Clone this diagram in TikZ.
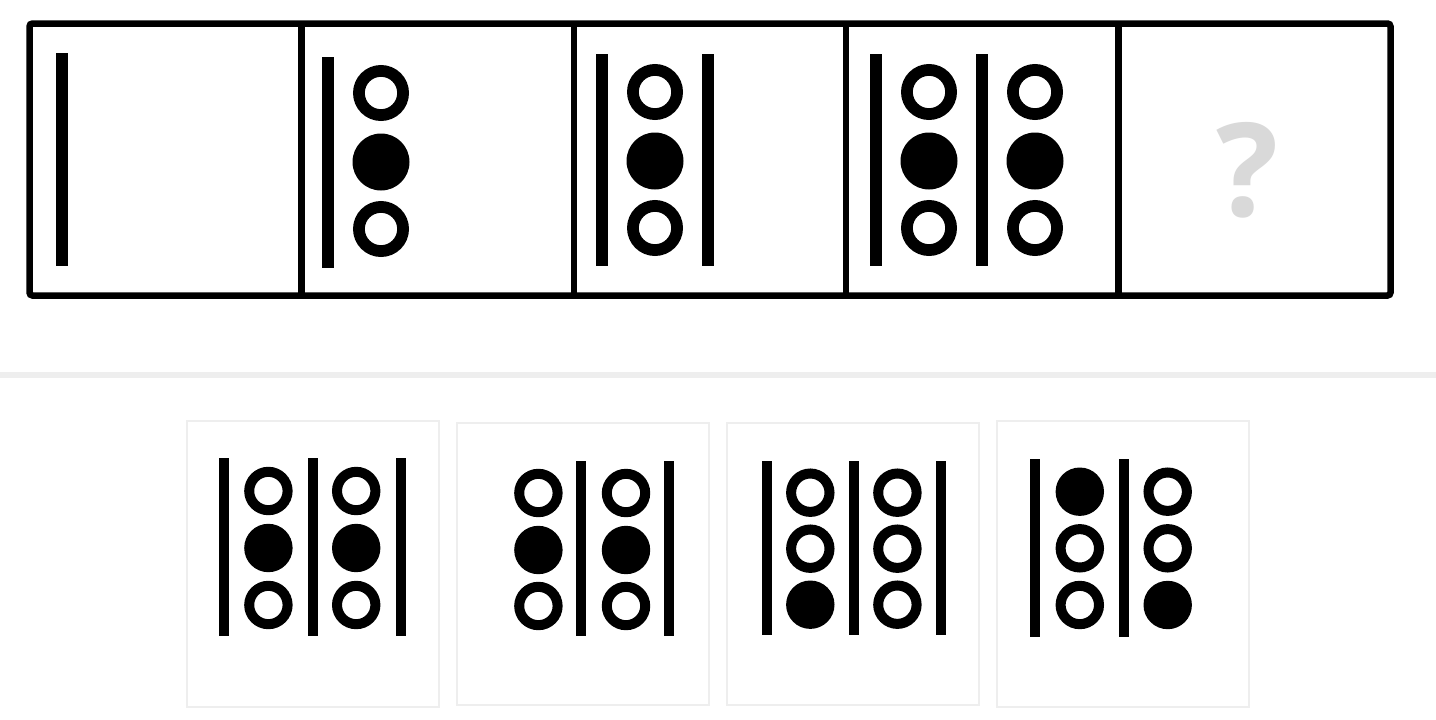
\documentclass[tikz,border=0pt]{standalone}
\usepackage{fontspec}
\setsansfont{Open Sans}
\usetikzlibrary{calc}
\definecolor{qgray}{HTML}{D9D9D9}
\definecolor{lightrule}{HTML}{EEEEEE}

\begin{document}
\begin{tikzpicture}[x=1pt, y=-1pt,
        frame/.style={line width=6.5pt},
        optbox/.style={draw=lightrule, line width=2pt},
        bigring/.style={line width=11.75pt},
        smallring/.style={line width=10pt}]
    \useasboundingbox (0,0) rectangle (1436,720);
    \fill[white] (0,0) rectangle (1436,720);
    % the row of five cells
    \draw[frame, rounded corners=3pt] (29.5,23.5) rectangle (1390.5,295.5);
    \foreach \x in {301.7, 574, 846.2, 1118.4}
        \draw[frame] (\x,23.5) -- (\x,295.5);
    \foreach \x/\a/\b in {62/53/266, 328/57/268, 602/54/266, 708/54/266, 876/54/266, 982/54/266}
        \fill ({\x-6},\a) rectangle ({\x+6},\b);
    \foreach \x/\d in {381/1, 655/0, 929/0, 1035/0} {
        \draw[bigring] (\x,92+\d) circle[radius=22.1pt];
        \fill (\x,161+\d) circle[radius=28.5pt];
        \draw[bigring] (\x,228+\d) circle[radius=22.1pt];
    }
    \node[text=qgray, font=\sffamily\bfseries\fontsize{130}{130}\selectfont] (qmark) at (1247,170) {?};
    % separator
    \fill[lightrule] (0,372) rectangle (1436,378);
    % the four answers
    \draw[optbox] (187,421) rectangle (439,707);
    \draw[optbox] (457,423) rectangle (709,705);
    \draw[optbox] (727,423) rectangle (979,705);
    \draw[optbox] (997,421) rectangle (1249,707);
    \foreach \x/\a/\b in {223.7/458/636, 313/458/636, 401.2/458/636, 581.3/461/636, 669/461/636,
                          766.6/461/635, 854/461/635, 941.1/461/635, 1035.3/459/637, 1123.9/459/637}
        \fill ({\x-5},\a) rectangle ({\x+5},\b);
    \foreach \x/\y/\f in {268.4/491/0, 268.4/548/1, 268.4/605/0, 356.2/491/0, 356.2/548/1, 356.2/605/0,
                          538.4/493/0, 538.4/550/1, 538.4/606/0, 626/493/0, 626/550/1, 626/606/0,
                          810.3/492.7/0, 810.3/548.7/0, 810.3/604.7/1, 897.4/492.7/0, 897.4/548.7/0, 897.4/604.7/0,
                          1079.8/491.7/1, 1079.8/548.3/0, 1079.8/605/0, 1167.7/491.7/0, 1167.7/548.3/0, 1167.7/605/1} {
        \ifnum\f=1
            \fill (\x,\y) circle[radius=24.2pt];
        \else
            \draw[smallring] (\x,\y) circle[radius=19.2pt];
        \fi
    }
\end{tikzpicture}
\end{document}
